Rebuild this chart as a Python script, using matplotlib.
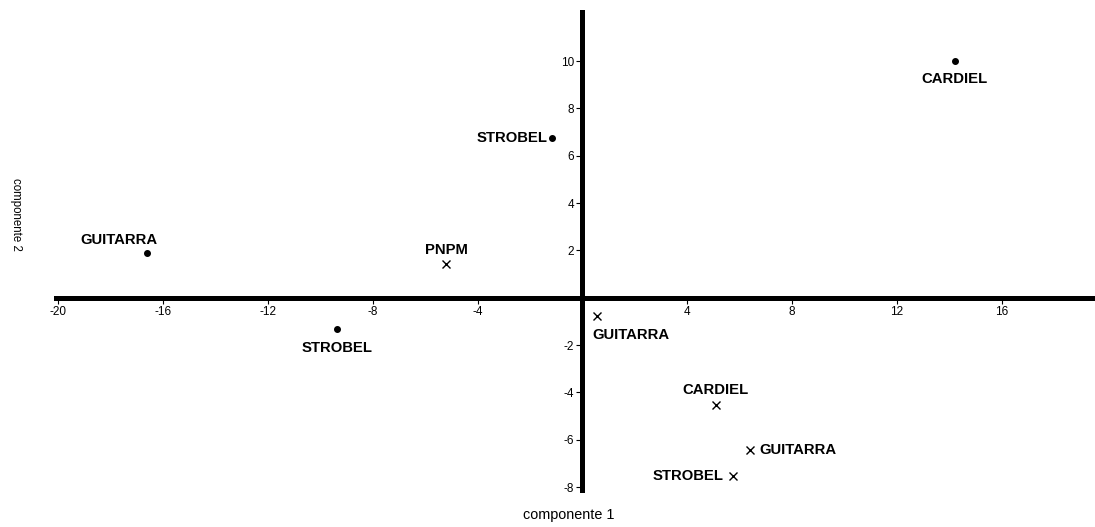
import matplotlib
matplotlib.use("Agg")
from matplotlib import pyplot as plt

plt.rcParams['font.family'] = ['Liberation Sans', 'DejaVu Sans']
plt.rcParams['axes.unicode_minus'] = False

# puntos (circulos)
dot_labels = ["GUITARRA", "STROBEL", "STROBEL", "CARDIEL"]
dot_x = [-16.6, -9.35, -1.15, 14.2]
dot_y = [1.9, -1.3, 6.75, 9.98]
dot_offsets = [(-28, 13, "center"), (0, -19, "center"), (-5, 0, "right"), (0, -18, "center")]

# puntos (cruces)
cross_labels = ["PNPM", "GUITARRA", "CARDIEL", "GUITARRA", "STROBEL"]
cross_x = [-5.2, 0.57, 5.08, 6.38, 5.73]
cross_y = [1.44, -0.76, -4.52, -6.43, -7.53]
cross_offsets = [(0, 14, "center"), (-5, -19, "left"), (0, 15, "center"), (10, 0, "left"), (-9, 0, "right")]

x_ticks = [-20, -16, -12, -8, -4, 4, 8, 12, 16]
y_ticks = [-8, -6, -4, -2, 2, 4, 6, 8, 10]

fig = plt.figure(figsize=(10.95, 5.27), dpi=100)
ax = fig.add_axes([56 / 1095, 37 / 527, 1039 / 1095, 478 / 527])

ax.plot(dot_x, dot_y, "o", color="black", markersize=4, linestyle="none")
ax.plot(cross_x, cross_y, "x", color="black", markersize=6, markeredgewidth=1, linestyle="none")

for lab, x, y, (dx, dy, ha) in zip(dot_labels, dot_x, dot_y, dot_offsets):
    ax.annotate(lab, (x, y), xytext=(dx, dy), textcoords="offset pixels",
                ha=ha, va="center", fontsize=10.7, fontweight="bold")
for lab, x, y, (dx, dy, ha) in zip(cross_labels, cross_x, cross_y, cross_offsets):
    ax.annotate(lab, (x, y), xytext=(dx, dy), textcoords="offset pixels",
                ha=ha, va="center", fontsize=10.7, fontweight="bold")

ax.set_xlim(-20.08, 19.55)
ax.set_ylim(-8.12, 12.07)

ax.spines["left"].set_position(("data", 0))
ax.spines["bottom"].set_position(("data", 0))
ax.spines["right"].set_visible(False)
ax.spines["top"].set_visible(False)
ax.spines["left"].set_linewidth(3.6)
ax.spines["bottom"].set_linewidth(3.6)

ax.set_xticks(x_ticks)
ax.set_yticks(y_ticks)
ax.tick_params(axis="both", labelsize=8.5, length=4, width=0.8, direction="out", pad=2)

fig.text(569 / 1095, 1 - 515 / 527, "componente 1", ha="center", va="center", fontsize=10.4)
fig.text(16 / 1095, 1 - 214 / 527, "componente 2", ha="center", va="center", fontsize=8.3, rotation=270)

fig.savefig("out.png", dpi=100)
